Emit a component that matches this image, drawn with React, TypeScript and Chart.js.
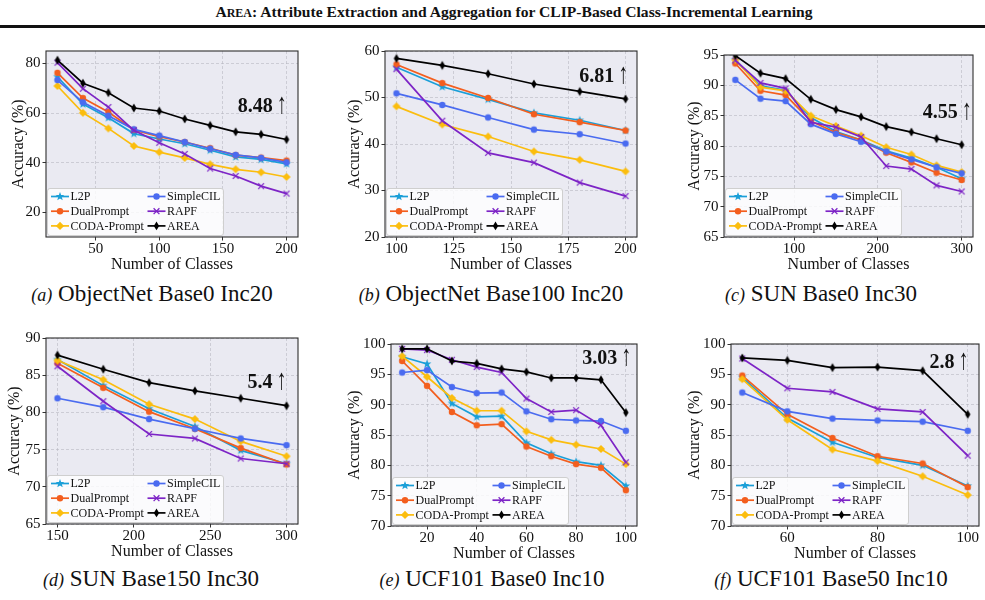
import React, { useEffect, useRef } from "react";
import { Chart, registerables } from "chart.js";

Chart.register(...registerables);

const FONT = "'Liberation Serif', 'Times New Roman', 'DejaVu Serif', serif";
Chart.defaults.font.family = FONT;
Chart.defaults.color = "#111";

// ---- methods (plot order = legend order, column-major) ----
const methodNames = ["L2P", "DualPrompt", "CODA-Prompt", "SimpleCIL", "RAPF", "AREA"];
const methodColors = ["#1a9fd8", "#f35e1e", "#fbbd0e", "#4a6bf0", "#7d24c6", "#000000"];
const methodMarkers = ["star", "circle", "diamond", "circle", "x", "thin"];

// ---- (a) ObjectNet Base0 Inc20 ----
const objNet0Classes = [20, 40, 60, 80, 100, 120, 140, 160, 180, 200];
const objNet0L2P = [74.6, 63.6, 58.1, 51.7, 49.5, 47.6, 45.0, 42.3, 41.3, 39.5];
const objNet0Dual = [76.2, 66.0, 60.4, 53.2, 50.5, 48.3, 45.8, 43.0, 42.0, 40.8];
const objNet0Coda = [70.9, 60.1, 53.8, 46.7, 44.2, 41.9, 39.3, 37.3, 36.1, 34.2];
const objNet0Simple = [73.3, 64.3, 58.9, 53.4, 50.9, 48.3, 45.6, 43.1, 41.9, 40.1];
const objNet0Rapf = [80.3, 69.8, 62.4, 53.0, 48.0, 43.5, 37.6, 34.6, 30.5, 27.5];
const objNet0Area = [81.3, 72.0, 68.2, 62.0, 60.8, 57.6, 55.0, 52.4, 51.4, 49.3];
const objNet0XTicks = [50, 100, 150, 200];
const objNet0YTicks = [20, 40, 60, 80];
const objNet0Gain = "8.48";

// ---- (b) ObjectNet Base100 Inc20 ----
const objNet100Classes = [100, 120, 140, 160, 180, 200];
const objNet100L2P = [56.5, 52.3, 49.6, 46.7, 45.1, 42.9];
const objNet100Dual = [57.1, 53.1, 49.9, 46.4, 44.7, 42.9];
const objNet100Coda = [48.1, 44.2, 41.6, 38.4, 36.6, 34.1];
const objNet100Simple = [50.9, 48.4, 45.7, 43.1, 42.1, 40.1];
const objNet100Rapf = [56.1, 45.0, 38.1, 36.0, 31.7, 28.8];
const objNet100Area = [58.4, 56.9, 55.1, 52.9, 51.3, 49.7];
const objNet100XTicks = [100, 125, 150, 175, 200];
const objNet100YTicks = [20, 30, 40, 50, 60];
const objNet100Gain = "6.81";

// ---- (c) SUN Base0 Inc30 ----
const sun0Classes = [30, 60, 90, 120, 150, 180, 210, 240, 270, 300];
const sun0L2P = [94.2, 89.9, 89.2, 84.7, 82.4, 81.0, 79.2, 78.0, 76.5, 74.6];
const sun0Dual = [93.6, 89.1, 88.4, 84.1, 82.2, 81.0, 78.9, 77.3, 75.6, 74.4];
const sun0Coda = [94.2, 89.7, 89.1, 85.0, 83.3, 81.7, 79.8, 78.6, 76.8, 75.7];
const sun0Simple = [90.9, 87.8, 87.4, 83.6, 82.0, 80.7, 79.1, 77.8, 76.5, 75.5];
const sun0Rapf = [94.1, 90.4, 89.5, 83.9, 83.1, 81.5, 76.7, 76.2, 73.5, 72.5];
const sun0Area = [94.9, 92.0, 91.1, 87.7, 86.0, 84.8, 83.2, 82.3, 81.2, 80.2];
const sun0XTicks = [100, 200, 300];
const sun0YTicks = [65, 70, 75, 80, 85, 90, 95];
const sun0Gain = "4.55";

// ---- (d) SUN Base150 Inc30 ----
const sun150Classes = [150, 180, 210, 240, 270, 300];
const sun150L2P = [87.1, 83.6, 80.5, 78.1, 74.9, 73.1];
const sun150Dual = [86.6, 83.3, 80.1, 77.8, 75.2, 73.0];
const sun150Coda = [87.0, 84.4, 81.1, 79.1, 76.1, 74.1];
const sun150Simple = [81.9, 80.7, 79.1, 77.8, 76.5, 75.6];
const sun150Rapf = [86.2, 81.5, 77.1, 76.5, 73.8, 73.1];
const sun150Area = [87.7, 85.8, 84.0, 82.9, 81.9, 80.9];
const sun150XTicks = [150, 200, 250, 300];
const sun150YTicks = [65, 70, 75, 80, 85, 90];
const sun150Gain = "5.4";

// ---- (e) UCF101 Base0 Inc10 ----
const ucf0Classes = [10, 20, 30, 40, 50, 60, 70, 80, 90, 100];
const ucf0L2P = [97.9, 96.7, 90.2, 88.0, 88.1, 83.7, 81.9, 80.6, 80.0, 76.6];
const ucf0Dual = [97.2, 93.1, 88.8, 86.6, 86.8, 83.1, 81.5, 80.2, 79.6, 75.9];
const ucf0Coda = [98.0, 94.6, 91.1, 89.0, 89.0, 85.6, 84.2, 83.4, 82.7, 80.2];
const ucf0Simple = [95.3, 95.7, 92.9, 91.9, 92.0, 88.9, 87.6, 87.4, 87.3, 85.7];
const ucf0Rapf = [99.2, 99.0, 97.4, 96.2, 95.3, 91.0, 88.8, 89.1, 86.6, 80.5];
const ucf0Area = [99.2, 99.2, 97.2, 96.8, 95.9, 95.4, 94.4, 94.4, 94.1, 88.7];
const ucf0XTicks = [20, 40, 60, 80, 100];
const ucf0YTicks = [70, 75, 80, 85, 90, 95, 100];
const ucf0Gain = "3.03";

// ---- (f) UCF101 Base50 Inc10 ----
const ucf50Classes = [50, 60, 70, 80, 90, 100];
const ucf50L2P = [94.5, 87.8, 83.8, 81.3, 80.0, 76.6];
const ucf50Dual = [94.8, 88.4, 84.5, 81.5, 80.3, 76.4];
const ucf50Coda = [94.2, 87.5, 82.6, 80.7, 78.2, 75.1];
const ucf50Simple = [92.0, 88.9, 87.7, 87.4, 87.2, 85.7];
const ucf50Rapf = [97.6, 92.7, 92.1, 89.3, 88.8, 81.6];
const ucf50Area = [97.7, 97.3, 96.1, 96.2, 95.6, 88.4];
const ucf50XTicks = [60, 80, 100];
const ucf50YTicks = [70, 75, 80, 85, 90, 95, 100];
const ucf50Gain = "2.8";

type PanelSpec = {
  tag: string;
  name: string;
  classes: number[];
  series: number[][];
  gain: string;
  xTicks: number[];
  yTicks: number[];
  xRange: [number, number];
  yRange: [number, number];
  // plot-area box on the page and y-title gap
  box: { left: number; top: number; width: number; height: number; titleGap: number };
  gainAt: { fx: number; fy: number };
  caption: { cx: number; top: number };
};

const panels: PanelSpec[] = [
  {
    tag: "(a)", name: "ObjectNet Base0 Inc20", classes: objNet0Classes,
    series: [objNet0L2P, objNet0Dual, objNet0Coda, objNet0Simple, objNet0Rapf, objNet0Area],
    gain: objNet0Gain, xTicks: objNet0XTicks, yTicks: objNet0YTicks,
    xRange: [11, 209], yRange: [10, 85],
    box: { left: 46, top: 51, width: 252, height: 186, titleGap: 27 },
    gainAt: { fx: 0.955, fy: 0.29 }, caption: { cx: 152, top: 281 },
  },
  {
    tag: "(b)", name: "ObjectNet Base100 Inc20", classes: objNet100Classes,
    series: [objNet100L2P, objNet100Dual, objNet100Coda, objNet100Simple, objNet100Rapf, objNet100Area],
    gain: objNet100Gain, xTicks: objNet100XTicks, yTicks: objNet100YTicks,
    xRange: [95, 205], yRange: [20, 60],
    box: { left: 385, top: 51, width: 252, height: 186, titleGap: 30 },
    gainAt: { fx: 0.965, fy: 0.13 }, caption: { cx: 491, top: 281 },
  },
  {
    tag: "(c)", name: "SUN Base0 Inc30", classes: sun0Classes,
    series: [sun0L2P, sun0Dual, sun0Coda, sun0Simple, sun0Rapf, sun0Area],
    gain: sun0Gain, xTicks: sun0XTicks, yTicks: sun0YTicks,
    xRange: [16.5, 313.5], yRange: [65, 95],
    box: { left: 724, top: 55, width: 249, height: 182, titleGap: 29 },
    gainAt: { fx: 0.995, fy: 0.31 }, caption: { cx: 821, top: 281 },
  },
  {
    tag: "(d)", name: "SUN Base150 Inc30", classes: sun150Classes,
    series: [sun150L2P, sun150Dual, sun150Coda, sun150Simple, sun150Rapf, sun150Area],
    gain: sun150Gain, xTicks: sun150XTicks, yTicks: sun150YTicks,
    xRange: [142.5, 307.5], yRange: [65, 90],
    box: { left: 46, top: 338, width: 252, height: 186, titleGap: 31 },
    gainAt: { fx: 0.954, fy: 0.233 }, caption: { cx: 151, top: 566 },
  },
  {
    tag: "(e)", name: "UCF101 Base0 Inc10", classes: ucf0Classes,
    series: [ucf0L2P, ucf0Dual, ucf0Coda, ucf0Simple, ucf0Rapf, ucf0Area],
    gain: ucf0Gain, xTicks: ucf0XTicks, yTicks: ucf0YTicks,
    xRange: [5.5, 104.5], yRange: [70, 100],
    box: { left: 391, top: 344, width: 246, height: 182, titleGap: 36 },
    gainAt: { fx: 0.977, fy: 0.072 }, caption: { cx: 492, top: 566 },
  },
  {
    tag: "(f)", name: "UCF101 Base50 Inc10", classes: ucf50Classes,
    series: [ucf50L2P, ucf50Dual, ucf50Coda, ucf50Simple, ucf50Rapf, ucf50Area],
    gain: ucf50Gain, xTicks: ucf50XTicks, yTicks: ucf50YTicks,
    xRange: [47.5, 102.5], yRange: [70, 100],
    box: { left: 731, top: 344, width: 248, height: 182, titleGap: 36 },
    gainAt: { fx: 0.958, fy: 0.092 }, caption: { cx: 831, top: 566 },
  },
];

// ---- marker glyphs ----
function drawMarker(ctx: CanvasRenderingContext2D, kind: string, cx: number, cy: number, color: string) {
  ctx.save();
  ctx.fillStyle = color;
  ctx.strokeStyle = color;
  ctx.beginPath();
  if (kind === "circle") {
    ctx.arc(cx, cy, 3.2, 0, Math.PI * 2);
    ctx.fill();
  } else if (kind === "star") {
    for (let i = 0; i < 10; i++) {
      const r = i % 2 === 0 ? 4.6 : 1.9;
      const a = -Math.PI / 2 + (i * Math.PI) / 5;
      const px = cx + r * Math.cos(a);
      const py = cy + r * Math.sin(a);
      if (i === 0) ctx.moveTo(px, py);
      else ctx.lineTo(px, py);
    }
    ctx.closePath();
    ctx.fill();
  } else if (kind === "diamond") {
    const s = 4.1;
    ctx.moveTo(cx, cy - s);
    ctx.lineTo(cx + s, cy);
    ctx.lineTo(cx, cy + s);
    ctx.lineTo(cx - s, cy);
    ctx.closePath();
    ctx.fill();
  } else if (kind === "thin") {
    const w = 2.7, h = 4.4;
    ctx.moveTo(cx, cy - h);
    ctx.lineTo(cx + w, cy);
    ctx.lineTo(cx, cy + h);
    ctx.lineTo(cx - w, cy);
    ctx.closePath();
    ctx.fill();
  } else if (kind === "x") {
    const s = 2.9;
    ctx.lineWidth = 1.3;
    ctx.moveTo(cx - s, cy - s);
    ctx.lineTo(cx + s, cy + s);
    ctx.moveTo(cx + s, cy - s);
    ctx.lineTo(cx - s, cy + s);
    ctx.stroke();
  }
  ctx.restore();
}

function markerImage(kind: string, color: string): HTMLCanvasElement {
  const c = document.createElement("canvas");
  c.width = 12;
  c.height = 12;
  const ctx = c.getContext("2d")!;
  drawMarker(ctx, kind, 6, 6, color);
  return c;
}

// ---- plugins ----
const plotBackground = {
  id: "plotBackground",
  beforeDraw(chart: any) {
    const { ctx, chartArea: a } = chart;
    ctx.save();
    ctx.fillStyle = "#eaeaf2";
    ctx.fillRect(a.left, a.top, a.width, a.height);
    ctx.restore();
  },
};

const insetLegend = {
  id: "insetLegend",
  afterDatasetsDraw(chart: any) {
    const { ctx, chartArea: a } = chart;
    const w = 176, h = 47;
    const x0 = a.left + 1.5;
    const y0 = a.bottom - 1.5 - h;
    ctx.save();
    ctx.beginPath();
    const r = 2.5;
    ctx.moveTo(x0 + r, y0);
    ctx.arcTo(x0 + w, y0, x0 + w, y0 + h, r);
    ctx.arcTo(x0 + w, y0 + h, x0, y0 + h, r);
    ctx.arcTo(x0, y0 + h, x0, y0, r);
    ctx.arcTo(x0, y0, x0 + w, y0, r);
    ctx.closePath();
    ctx.fillStyle = "rgba(255,255,255,0.8)";
    ctx.fill();
    ctx.strokeStyle = "#cfcfcf";
    ctx.lineWidth = 1;
    ctx.stroke();
    ctx.font = `12px ${FONT}`;
    ctx.textBaseline = "middle";
    ctx.textAlign = "left";
    chart.data.datasets.forEach((ds: any, i: number) => {
      const col = Math.floor(i / 3);
      const row = i % 3;
      const hx = x0 + 3.5 + col * 96.5;
      const y = y0 + 8 + row * 14.7;
      ctx.strokeStyle = ds.borderColor;
      ctx.lineWidth = 1.7;
      ctx.beginPath();
      ctx.moveTo(hx, y);
      ctx.lineTo(hx + 18, y);
      ctx.stroke();
      drawMarker(ctx, ds.markerKind, hx + 9, y, ds.borderColor);
      ctx.fillStyle = "#111";
      ctx.fillText(ds.label, hx + 19.5, y + 0.5);
    });
    ctx.restore();
  },
};

const gainNote = {
  id: "gainNote",
  afterDatasetsDraw(chart: any, _args: any, opts: any) {
    const { ctx, chartArea: a } = chart;
    const right = a.left + opts.fx * a.width;
    const base = a.top + opts.fy * a.height + 7;
    ctx.save();
    ctx.textBaseline = "alphabetic";
    ctx.textAlign = "right";
    ctx.fillStyle = "#111";
    ctx.font = `20px ${FONT}`;
    const arrow = "\u2191";
    const arrowW = ctx.measureText(arrow).width;
    // tall, thin arrow: stretch the glyph vertically from the baseline
    ctx.save();
    ctx.translate(right, base + 1);
    ctx.scale(1, 1.45);
    ctx.fillText(arrow, 0, 0);
    ctx.restore();
    ctx.font = `bold 20px ${FONT}`;
    ctx.fillText(opts.text, right - arrowW - 4, base);
    ctx.restore();
  },
};

const plotFrame = {
  id: "plotFrame",
  afterDraw(chart: any) {
    const { ctx, chartArea: a } = chart;
    ctx.save();
    ctx.strokeStyle = "#2e2e2e";
    ctx.lineWidth = 1.1;
    ctx.strokeRect(a.left, a.top, a.width, a.height);
    ctx.restore();
  },
};

const PAD_TOP = 12;
const X_AXIS_H = 37;

function geometry(spec: PanelSpec) {
  const { left, top, width, height, titleGap } = spec.box;
  const yAxisW = titleGap + 10;
  const padRight = Math.min(12, 985 - (left + width));
  return {
    yAxisW,
    padRight,
    canvasLeft: left - yAxisW,
    canvasTop: top - PAD_TOP,
    canvasW: yAxisW + width + padRight,
    canvasH: PAD_TOP + height + X_AXIS_H,
  };
}

function axisGrid() {
  return {
    color: "rgba(180,180,190,0.7)",
    lineWidth: 0.8,
    drawTicks: true,
    tickLength: 3.5,
    tickColor: "#333",
    tickWidth: 1,
    tickBorderDash: [],
  };
}

function Panel({ spec }: { spec: PanelSpec }) {
  const ref = useRef<HTMLCanvasElement>(null);
  const g = geometry(spec);

  useEffect(() => {
    if (!ref.current) return;
    const datasets = spec.series.map((values, i) => ({
      label: methodNames[i],
      markerKind: methodMarkers[i],
      data: spec.classes.map((c, j) => ({ x: c, y: values[j] })),
      borderColor: methodColors[i],
      backgroundColor: methodColors[i],
      borderWidth: 1.7,
      pointStyle: markerImage(methodMarkers[i], methodColors[i]),
      pointRadius: 4,
      tension: 0,
      fill: false,
      order: methodNames.length - 1 - i,
    }));

    const chart = new Chart(ref.current, {
      type: "line",
      data: { datasets } as any,
      options: {
        animation: false,
        responsive: false,
        maintainAspectRatio: false,
        events: [],
        layout: { padding: { left: 0, top: PAD_TOP, right: g.padRight, bottom: 0 } },
        plugins: {
          legend: { display: false },
          tooltip: { enabled: false },
          gainNote: { text: spec.gain, fx: spec.gainAt.fx, fy: spec.gainAt.fy },
        } as any,
        scales: {
          x: {
            type: "linear",
            min: spec.xRange[0],
            max: spec.xRange[1],
            afterBuildTicks: (s: any) => {
              s.ticks = spec.xTicks.map((v) => ({ value: v }));
            },
            afterFit: (s: any) => {
              s.height = X_AXIS_H;
            },
            grid: axisGrid(),
            border: { display: false, dash: [3, 2] },
            ticks: { font: { size: 15 }, color: "#111", padding: 0, maxRotation: 0, autoSkip: false },
            title: { display: true, text: "Number of Classes", font: { size: 16 }, color: "#111", padding: 0 },
          },
          y: {
            type: "linear",
            min: spec.yRange[0],
            max: spec.yRange[1],
            afterBuildTicks: (s: any) => {
              s.ticks = spec.yTicks.map((v) => ({ value: v }));
            },
            afterFit: (s: any) => {
              s.width = g.yAxisW;
            },
            grid: axisGrid(),
            border: { display: false, dash: [3, 2] },
            ticks: { font: { size: 15 }, color: "#111", padding: 2, autoSkip: false },
            title: { display: true, text: "Accuracy (%)", font: { size: 16 }, color: "#111", padding: 0 },
          },
        } as any,
      },
      plugins: [plotBackground, insetLegend, gainNote, plotFrame],
    });
    return () => chart.destroy();
  }, []);

  return (
    <canvas
      ref={ref}
      width={g.canvasW}
      height={g.canvasH}
      style={{ position: "absolute", left: g.canvasLeft, top: g.canvasTop, width: g.canvasW, height: g.canvasH }}
    />
  );
}

export default function App() {
  return (
    <div
      style={{
        position: "fixed",
        left: 0,
        top: 0,
        width: 985,
        height: 600,
        overflow: "hidden",
        background: "#fff",
        fontFamily: FONT,
        color: "#111",
      }}
    >
      <div
        style={{
          position: "absolute",
          left: 0,
          width: 1028,
          top: 3,
          textAlign: "center",
          fontWeight: "bold",
          fontSize: 15.6,
          whiteSpace: "nowrap",
        }}
      >
        A<span style={{ fontSize: 12 }}>REA</span>: Attribute Extraction and Aggregation for CLIP-Based
        Class-Incremental Learning
      </div>
      <div style={{ position: "absolute", left: 0, top: 25, width: 985, height: 2.5, background: "#111" }} />
      {panels.map((p) => (
        <Panel key={p.tag} spec={p} />
      ))}
      {panels.map((p) => (
        <div
          key={"cap" + p.tag}
          style={{
            position: "absolute",
            left: p.caption.cx - 200,
            width: 400,
            top: p.caption.top,
            textAlign: "center",
            fontSize: 23,
            whiteSpace: "nowrap",
          }}
        >
          <span style={{ fontStyle: "italic", fontSize: 18 }}>{p.tag}</span> {p.name}
        </div>
      ))}
    </div>
  );
}
